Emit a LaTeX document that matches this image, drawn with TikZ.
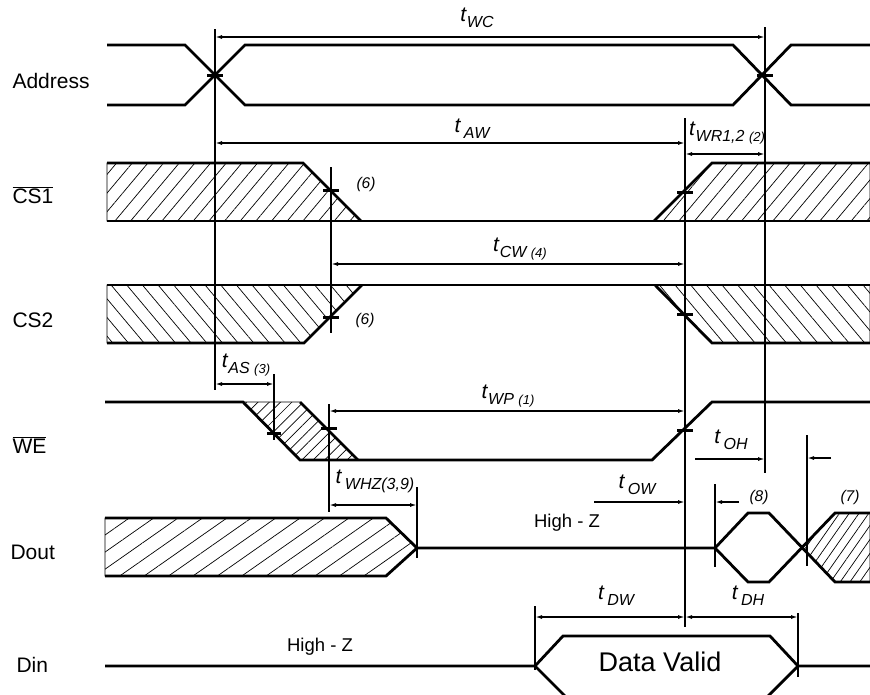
\documentclass[tikz,border=0pt]{standalone}
\usepackage{fontspec}
\setmainfont{Liberation Sans}
\usetikzlibrary{arrows.meta}
\usetikzlibrary{patterns.meta}

\newcommand{\tm}[1]{{\fontsize{21}{22}\selectfont\textit{t}}\raisebox{-6pt}{\fontsize{16}{18}\selectfont\itshape #1}}
\newcommand{\nt}[1]{{\fontsize{13}{14}\selectfont #1}}

\begin{document}
\begin{tikzpicture}[x=1pt, y=-1pt,
            font = \fontsize{21}{23}\selectfont,
            sig/.style = {line width=2.8pt, line join=miter},
            refline/.style = {line width=1.8pt},
            thinref/.style = {line width=1.2pt},
            tickmark/.style = {line width=3pt},
            dim/.style = {line width=1.4pt,
                {Latex[length=7pt,width=4pt]}-{Latex[length=7pt,width=4pt]}},
            onedim/.style = {line width=1.4pt, -{Latex[length=7pt,width=4pt]}},
            hatchA/.style = {draw, line width=0.6pt,
                pattern={Lines[angle=50,distance=12pt,line width=0.7pt]}},
            hatchB/.style = {draw, line width=0.6pt,
                pattern={Lines[angle=-50,distance=12pt,line width=0.7pt]}},
            hatchC/.style = {draw, line width=0.6pt,
                pattern={Lines[angle=45,distance=8pt,line width=0.7pt]}},
            hatchD/.style = {draw, line width=0.6pt,
                pattern={Lines[angle=35,distance=14pt,line width=0.7pt]}},
            hatchE/.style = {draw, line width=0.6pt,
                pattern={Lines[angle=55,distance=8pt,line width=0.7pt]}},
            note/.style = {font=\fontsize{15.5}{17}\selectfont\itshape},
            hz/.style = {font=\fontsize{18.5}{20}\selectfont},
            lbl/.style = {anchor=west}]
            \useasboundingbox (0,0) rectangle (870,694);
            % signal names
            \node[lbl](addr) at (9,81) {Address};
            \node[lbl](cs1) at (9,195) {$\overline{\mbox{CS1}}$};
            \node[lbl](cs2) at (9,320) {CS2};
            \node[lbl](we) at (9,445) {$\overline{\mbox{WE}}$};
            \node[lbl](dout) at (7,552) {Dout};
            \node[lbl](din) at (13,665) {Din};
            % hatched regions
            \path[hatchA] (107,163) -- (303,163) -- (361,221) -- (107,221) -- cycle;
            \path[hatchA] (654,221) -- (712,163) -- (870,163) -- (870,221) -- cycle;
            \path[hatchB] (107,285) -- (362,285) -- (304,343) -- (107,343) -- cycle;
            \path[hatchB] (655,285) -- (870,285) -- (870,343) -- (712,343) -- cycle;
            \path[hatchC] (243,402) -- (300,402) -- (358,460) -- (300,460) -- cycle;
            \path[hatchD] (105,518) -- (386,518) -- (417,548) -- (386,576) -- (105,576) -- cycle;
            \path[hatchE] (802,548) -- (835,513) -- (870,513) -- (870,582) -- (835,582) -- cycle;
            % Address
            \draw[sig] (107,45) -- (185,45) -- (245,105) -- (733,105) -- (791,45) -- (870,45);
            \draw[sig] (107,105) -- (185,105) -- (245,45) -- (733,45) -- (791,105) -- (870,105);
            % CS1
            \draw[sig] (107,163) -- (303,163) -- (361,221);
            \draw[sig] (107,221) -- (870,221);
            \draw[sig] (654,221) -- (712,163) -- (870,163);
            % CS2
            \draw[sig] (107,285) -- (870,285);
            \draw[sig] (107,343) -- (304,343) -- (362,285);
            \draw[sig] (655,285) -- (712,343) -- (870,343);
            % WE
            \draw[sig] (105,402) -- (243,402) -- (300,460) -- (652,460) -- (712,402) -- (870,402);
            \draw[sig] (300,402) -- (358,460);
            % Dout
            \draw[sig] (105,518) -- (386,518) -- (417,548) -- (715,548);
            \draw[sig] (105,576) -- (386,576) -- (417,548);
            \draw[sig] (715,548) -- (748,513) -- (769,513) -- (835,582) -- (870,582);
            \draw[sig] (715,548) -- (748,582) -- (769,582) -- (835,513) -- (870,513);
            % Din
            \draw[sig] (105,666) -- (535,666) -- (563,636) -- (770,636) -- (798,666) -- (870,666);
            \draw[sig] (535,666) -- (570,701);
            \draw[sig] (798,666) -- (763,701);
            % reference lines
            \draw[refline] (215,29) -- (215,390);
            \draw[refline] (765,27) -- (765,473);
            \draw[refline] (685,118) -- (685,627);
            \draw[refline] (331,167) -- (331,333);
            \draw[refline] (274,374) -- (274,440);
            \draw[thinref] (329,404) -- (329,512);
            \draw[refline] (417,487) -- (417,558);
            \draw[refline] (807,435) -- (807,566);
            \draw[refline] (715,484) -- (715,567);
            \draw[refline] (535,606) -- (535,670);
            \draw[refline] (798,613) -- (798,677);
            % crossing marks
            \draw[tickmark] (207,75) -- (223,75);
            \draw[tickmark] (757,75) -- (773,75);
            \draw[tickmark] (323,190) -- (339,190);
            \draw[tickmark] (677,192) -- (693,192);
            \draw[tickmark] (323,317) -- (339,317);
            \draw[tickmark] (677,314) -- (693,314);
            \draw[tickmark] (267,433) -- (281,433);
            \draw[tickmark] (321,428) -- (337,428);
            \draw[tickmark] (677,430) -- (693,430);
            % timing arrows
            \draw[dim] (215,37) -- (765,37);
            \draw[dim] (215,143) -- (685,143);
            \draw[dim] (685,154) -- (765,154);
            \draw[dim] (331,264) -- (685,264);
            \draw[dim] (215,384) -- (274,384);
            \draw[dim] (329,411) -- (685,411);
            \draw[dim] (329,505) -- (417,505);
            \draw[onedim] (695,459) -- (765,459);
            \draw[onedim] (831,458) -- (807,458);
            \draw[onedim] (594,502) -- (685,502);
            \draw[onedim] (739,502) -- (715,502);
            \draw[dim] (535,617) -- (685,617);
            \draw[dim] (685,617) -- (798,617);
            % timing labels
            \node(twc) at (477,18) {\tm{WC}};
            \node(taw) at (472,129) {\tm{\,AW}};
            \node(twr) at (727,133) {\tm{WR1,2 \nt{(2)}}};
            \node(tcw) at (520,249) {\tm{CW \nt{(4)}}};
            \node(tas) at (246,365) {\tm{AS \nt{(3)}}};
            \node(twp) at (508,396) {\tm{WP \nt{(1)}}};
            \node(twhz) at (375,481) {\tm{\,WHZ(3,9)}};
            \node(toh) at (731,440) {\tm{\,OH}};
            \node(tow) at (637,485) {\tm{\,OW}};
            \node(tdw) at (616,596) {\tm{\,DW}};
            \node(tdh) at (748,596) {\tm{\,DH}};
            \node[note](n6a) at (366,184) {(6)};
            \node[note](n6b) at (365,320) {(6)};
            \node[note](n8) at (759,497) {(8)};
            \node[note](n7) at (850,497) {(7)};
            \node[hz](hzout) at (567,523) {High - Z};
            \node[hz](hzin) at (320,647) {High - Z};
            \node[font=\fontsize{27}{30}\selectfont](valid) at (660,662) {Data Valid};
        \end{tikzpicture}
\end{document}
